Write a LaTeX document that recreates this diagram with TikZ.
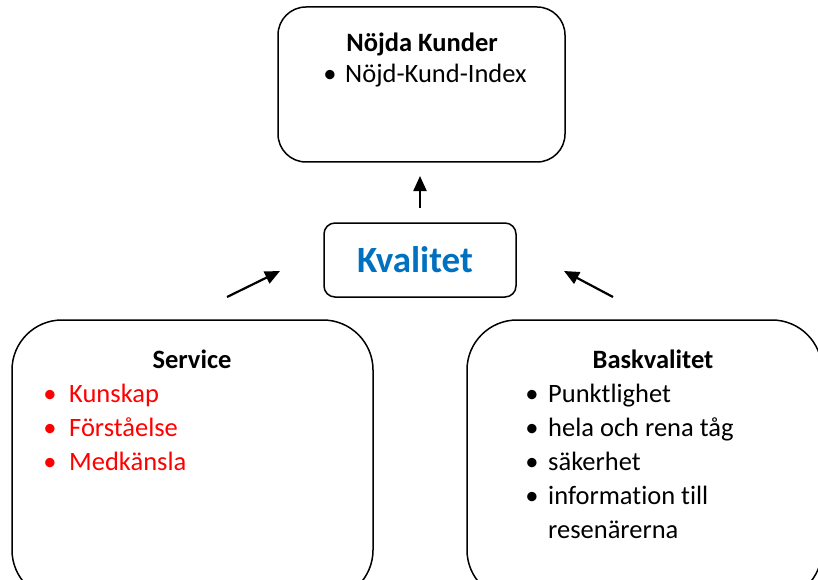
\documentclass[tikz,border=0pt]{standalone}
\usepackage{fontspec}
\setmainfont{Carlito}[Ligatures=NoCommon]
\usetikzlibrary{arrows.meta}
\definecolor{kvblue}{HTML}{0070C0}
\definecolor{listred}{HTML}{FF0000}
\begin{document}
\begin{tikzpicture}[x=1pt,y=-1pt,
  box/.style={draw, line width=1.5pt, inner sep=0pt, rounded corners=#1},
  title/.style={anchor=base, font=\fontsize{26.5}{34}\selectfont\bfseries, inner sep=0pt},
  item/.style={anchor=base west, font=\fontsize{26.5}{34}\selectfont, inner sep=0pt},
  dot/.style={anchor=base, font=\fontsize{26.5}{34}\selectfont, inner sep=0pt},
  flow/.style={line width=2.2pt, -{Triangle[length=15pt,width=13pt]}}
]
\useasboundingbox (0,0) rectangle (818,580);
\clip (0,0) rectangle (818,580);

% boxes
\node[box=28pt, minimum width=287pt, minimum height=155pt] (kunder) at (421.5,84.5) {};
\node[box=11pt, minimum width=192pt, minimum height=74pt] (kval) at (420,260) {};
\node[box=50pt, minimum width=361pt, minimum height=280pt] (service) at (192.5,460) {};
\node[box=50pt, minimum width=355pt, minimum height=280pt] (bask) at (644.5,460) {};

% top box text
\node[title] (kunderT) at (422,52) {Nöjda Kunder};
\node[dot] (kunderB1) at (330,83) {•};
\node[item] (kunderI1) at (345,83) {Nöjd-Kund-Index};

% centre text
\node[anchor=base, inner sep=0pt, text=kvblue, font=\fontsize{37}{40}\selectfont\bfseries] (kvalT) at (415,272) {Kvalitet};

% service box text
\node[title] (serviceT) at (192,368) {Service};
\foreach \y/\t [count=\i] in {402/Kunskap, 436/Förståelse, 470/Medkänsla}{
  \node[dot, text=listred] (serviceB\i) at (50,\y) {•};
  \node[item, text=listred] (serviceI\i) at (69,\y) {\t};
}

% base quality box text
\node[title] (baskT) at (653,368) {Baskvalitet};
\foreach \y/\t [count=\i] in {402/Punktlighet, 436/hela och rena tåg, 470/säkerhet, 504/information till}{
  \node[dot] (baskB\i) at (532,\y) {•};
  \node[item] (baskI\i) at (548,\y) {\t};
}
\node[item] (baskI5) at (548,538) {resenärerna};

% arrows
\coordinate (upS) at (420,208);
\coordinate (upE) at (420,176);
\coordinate (lS) at (227,297);
\coordinate (lE) at (280,271);
\coordinate (rS) at (613,297);
\coordinate (rE) at (564,271);
\draw[flow] (upS) -- (upE);
\draw[flow] (lS) -- (lE);
\draw[flow] (rS) -- (rE);
\end{tikzpicture}
\end{document}
